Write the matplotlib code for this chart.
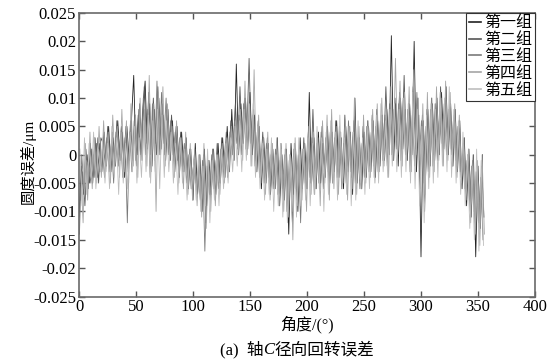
import numpy as np
import matplotlib
matplotlib.use("Agg")
import matplotlib.pyplot as plt

FONT = ['Liberation Serif', 'Noto Sans CJK SC', 'DejaVu Sans']
plt.rcParams['font.family'] = FONT

# angle grids (degrees): the groups are sampled on interleaved grids
angles_g1 = np.arange(0.0, 356, 2)
angles_g2 = np.arange(1.2, 357, 2)
angles_g3 = np.arange(0.4, 356, 2)
angles_g4 = np.arange(1.6, 357, 2)
angles_g5 = np.arange(0.8, 356, 2)

# values in thousandths, converted below
g1_milli = [
    -11, -2, -7, 1, -6, 2, -5, 3, -4, 2,
    -3, 4, -2, 5, -3, 3, -2, 6, -1, 4,
    -4, 5, -1, 6, 14, -1, 7, 0, 8, 13,
    1, 9, -2, 8, 0, 10, 1, 7, -1, 8,
    -1, 6, -3, 5, -4, 4, -3, 3, -6, 1,
    -8, 2, -7, 0, -10, 1, -9, -1, -7, 1,
    -7, 2, -5, 3, -4, 5, -3, 8, -1, 16,
    0, 9, 2, 10, 1, 11, 0, 7, -3, 5,
    -6, 3, -5, 2, -7, 1, -6, 3, -9, 0,
    -8, 1, -14, 2, -7, 1, -10, 3, -6, 2,
    -6, 11, -5, 3, -6, 4, -5, 2, -4, 5,
    -5, 4, -3, 6, -4, 3, -6, 5, -3, 4,
    -7, 10, -5, 3, -6, 4, -4, 5, -3, 6,
    -4, 6, -2, 7, -1, 8, 0, 21, -1, 9,
    -2, 10, 1, 8, -1, 9, 0, 20, -3, 7,
    -18, 6, -4, 8, -2, 9, -1, 10, 0, 11,
    1, 12, 0, 9, -2, 8, -3, 6, -6, 3,
    -9, 1, -11, 0, -18, -2, -13, 0,
]
g2_milli = [
    -8, -3, -9, 0, -5, 1, -4, 2, -5, 3,
    2, -2, 5, -1, 4, -2, 6, 0, 5, -1,
    5, -3, 6, -1, 7, 0, 9, 1, 12, 2,
    11, 0, 10, 2, 12, 1, 9, 0, 8, 1,
    7, -1, 5, -2, 4, -3, 2, -4, 1, -5,
    0, -7, -1, -9, 0, -12, -1, -8, 1, -6,
    2, -5, 3, -4, 4, -2, 6, 0, 9, 1,
    12, 2, 10, 3, 17, 1, 8, -1, 6, -3,
    4, -4, 3, -6, 2, -5, 1, -7, 2, -8,
    1, -9, 0, -12, 2, -8, 1, -7, 3, -6,
    4, -5, 8, -4, 3, -6, 5, -3, 4, -5,
    5, -4, 6, -3, 4, -5, 7, -2, 5, -4,
    6, -6, 4, -4, 5, -3, 6, -2, 7, -3,
    8, -1, 7, 0, 12, 1, 9, -1, 10, 2,
    11, 1, 14, 0, 9, -2, 12, 1, 10, -4,
    7, -10, 8, -2, 10, 0, 9, 1, 12, 0,
    10, 2, 9, 0, 7, -3, 5, -4, 2, -7,
    0, -10, -1, -12, -3, -14, -2, -11,
]
g3_milli = [
    -14, 0, -6, -1, -2, -5, 0, -4, 3, -3,
    1, -4, 3, -3, 2, -5, 4, -2, 3, -4,
    3, -12, 4, -3, 6, -2, 8, -1, 10, 0,
    8, -4, 9, -1, 13, 0, 11, 2, 10, 0,
    6, 0, 4, -1, 3, -2, 2, -5, 0, -6,
    -2, -5, -3, -8, -1, -17, -2, -7, 0, -6,
    -1, -6, 1, -3, 2, -4, 4, 0, 6, 2,
    7, 0, 9, 1, 8, 2, 7, -2, 4, -4,
    1, -5, 2, -4, 0, -6, 1, -7, -1, -6,
    0, -10, -1, -7, 1, -6, 0, -12, 1, -5,
    2, -4, 3, -7, 2, -5, 4, -6, 3, -3,
    4, -5, 3, -4, 5, -6, 2, -5, 6, -3,
    4, -5, 3, -6, 2, -4, 5, -3, 4, -2,
    5, -3, 6, -1, 7, -2, 9, 0, 8, 1,
    9, -1, 10, 0, 8, -3, 7, -2, 11, -1,
    6, -5, 5, -3, 8, -2, 9, -1, 7, 2,
    9, 0, 8, 1, 6, -1, 5, -3, 0, -6,
    -1, -8, -2, -10, -3, -12, -4, -15,
]
g4_milli = [
    -3, -12, 2, -8, 4, -6, 3, -5, 5, -4,
    6, -3, 4, -5, 7, -2, 5, -4, 8, -3,
    6, -5, 9, -2, 7, -4, 10, -1, 8, -2,
    14, -3, 9, -10, 11, 0, 12, -2, 9, -1,
    5, -4, 6, -5, 3, -6, 4, -7, 2, -8,
    1, -9, 0, -11, 2, -13, -1, -10, 1, -9,
    0, -7, 2, -5, 3, -3, 5, -1, 6, 0,
    8, -1, 13, 0, 9, -2, 15, -3, 7, -5,
    3, -7, 4, -8, 2, -6, 3, -9, 1, -10,
    2, -11, 0, -15, 3, -9, 1, -8, 2, -10,
    5, -7, 4, -6, 3, -9, 6, -5, 7, -8,
    8, -6, 5, -7, 4, -5, 6, -8, 5, -6,
    10, -7, 5, -6, 7, -5, 6, -4, 8, -5,
    9, -3, 10, -2, 8, -4, 12, -1, 17, 0,
    13, -2, 11, -1, 12, -3, 15, 0, 10, -6,
    9, -7, 11, -4, 10, -3, 12, -1, 10, -2,
    13, -1, 11, -2, 9, -4, 7, -5, 3, -8,
    1, -12, 0, -14, -1, -16, 0, -14,
]
g5_milli = [
    1, -9, 3, -7, 2, -4, 4, -6, 1, -3,
    3, -5, 2, -6, 5, -4, 3, -7, 4, -5,
    2, -6, 4, -3, 5, -5, 3, -4, 6, -3,
    7, -5, 6, -3, 8, -6, 7, -4, 6, -3,
    4, -5, 2, -7, 3, -5, 1, -8, 0, -6,
    -1, -8, 0, -10, -2, -9, 1, -12, -1, -8,
    0, -9, 1, -6, 2, -5, 3, -3, 5, -2,
    6, -3, 8, -1, 10, -2, 9, -4, 5, -6,
    2, -8, 1, -7, 3, -10, 0, -9, 2, -11,
    1, -12, 0, -10, 2, -11, 3, -9, 1, -8,
    3, -9, 2, -7, 5, -6, 3, -10, 4, -7,
    6, -5, 4, -8, 7, -6, 3, -7, 5, -9,
    4, -8, 6, -5, 3, -7, 5, -6, 6, -4,
    7, -5, 9, -3, 6, -4, 8, -2, 9, -3,
    8, -4, 10, -3, 9, -5, 11, -6, 8, -9,
    5, -12, 7, -6, 9, -5, 8, -4, 11, -2,
    10, -3, 12, -4, 8, -5, 6, -7, 4, -9,
    0, -13, -2, -15, 1, -17, -1, -16,
]

labels = ['第一组', '第二组', '第三组', '第四组', '第五组']
series = [g1_milli, g2_milli, g3_milli, g4_milli, g5_milli]
grids = [angles_g1, angles_g2, angles_g3, angles_g4, angles_g5]
colors = ['#222222', '#555555', '#7a7a7a', '#a5a5a5', '#bdbdbd']

yticks = [0.025, 0.02, 0.015, 0.01, 0.005, 0, -0.005, -0.01, -0.015, -0.02, -0.025]
ytick_labels = ['0.025', '0.02', '0.015', '0.01', '0.005', '0', '-0.005', '-0.001',
                '-0.015', '-0.02', '-0.025']
xticks = [0, 50, 100, 150, 200, 250, 300, 350, 400]

fig = plt.figure(figsize=(5.54, 3.64), dpi=100)
ax = fig.add_axes([0.1426, 0.1854, 0.8231, 0.7789])

for vals, grid, c, lab in zip(series, grids, colors, labels):
    ax.plot(grid[:len(vals)], np.array(vals) / 1000.0, color=c, lw=0.6, label=lab)

ax.set_xlim(0, 400)
ax.set_ylim(-0.025, 0.025)
ax.set_xticks(xticks)
ax.set_xticklabels([str(t) for t in xticks], fontsize=12)
ax.set_yticks(yticks)
ax.set_yticklabels(ytick_labels, fontsize=12)
ax.tick_params(direction='in', length=4, width=1, color='#555555',
               top=True, right=True, pad=2)
for s in ax.spines.values():
    s.set_color('#6a6a6a')
    s.set_linewidth(1.2)

ax.set_ylabel('圆度误差/μm', fontsize=11)
ax.yaxis.set_label_coords(-0.094, 0.475)
ax.set_xlabel('角度/(°)', fontsize=11.5, labelpad=0)

leg = ax.legend(loc='upper right', borderaxespad=0, fancybox=False,
                edgecolor='#333333', framealpha=1, fontsize=11.5,
                handlelength=0.8, handletextpad=0.2, labelspacing=0.05,
                borderpad=0.15)
leg.get_frame().set_linewidth(0.8)
for h in leg.get_lines():
    h.set_linewidth(1.2)

# caption with italic C
fig.canvas.draw()
r = fig.canvas.get_renderer()
y_cap = 1 - 350 / 364
t1 = fig.text(0.397, y_cap, '(a)  轴', fontsize=12, va='center', ha='left')
bb = t1.get_window_extent(r)
t2 = fig.text(bb.x1 / fig.bbox.width, y_cap, 'C', fontsize=12, va='center',
              ha='left', style='italic')
bb2 = t2.get_window_extent(r)
fig.text(bb2.x1 / fig.bbox.width, y_cap, '径向回转误差', fontsize=12,
         va='center', ha='left')

fig.savefig('out.png', dpi=100)
